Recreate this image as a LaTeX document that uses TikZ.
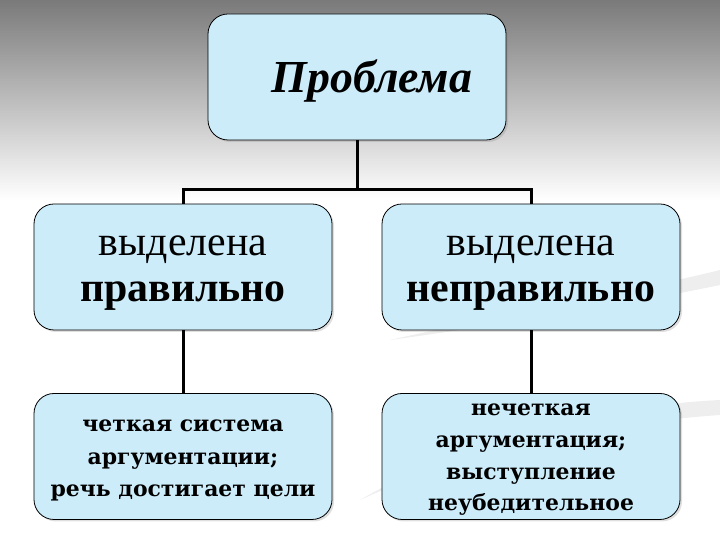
\documentclass[tikz,border=0pt]{standalone}
\usepackage{fontspec}
\setmainfont{Liberation Serif}
\newfontfamily\widefont{DejaVu Serif}
\usetikzlibrary{shadows}
\definecolor{boxblue}{RGB}{204,236,250}
\definecolor{topgray}{RGB}{122,122,122}
\definecolor{swoosh}{RGB}{238,238,238}
\newcommand{\lowerby}[1]{\rule{0pt}{#1}}

\begin{document}
\begin{tikzpicture}[x=1bp,y=1bp,
  box/.style={draw, rounded corners=20bp, fill=boxblue, line width=0.8bp,
    minimum width=298bp, minimum height=126bp, align=center, inner sep=2bp,
    drop shadow={shadow xshift=2bp, shadow yshift=-2bp, opacity=0.25}},
  link/.style={line width=3bp}]
\useasboundingbox (0,0) rectangle (720,540);
\shade[top color=topgray, bottom color=white] (0,340) rectangle (720,540);
% faint swooshes behind the boxes
\fill[swoosh] (360,40) .. controls (480,110) and (620,135) .. (720,140)
  -- (720,125) .. controls (620,118) and (480,95) .. (360,40) -- cycle;
\fill[swoosh] (390,200) .. controls (500,225) and (640,250) .. (720,270)
  -- (720,255) .. controls (640,238) and (500,215) .. (390,200) -- cycle;

\node[box, font=\fontsize{46}{50}\selectfont\bfseries\itshape] (prob) at (357,463) {\lowerby{40bp}\hspace*{30bp}Проблема};
\node[box, font=\fontsize{42}{47}\selectfont] (right) at (183,273) {\lowerby{32bp}выделена\\\textbf{правильно}};
\node[box, font=\fontsize{42}{47}\selectfont] (wrong) at (531,273) {\lowerby{32bp}выделена\\\textbf{неправильно}};
\node[box, font=\widefont\fontsize{22}{32.5}\selectfont\bfseries] (clear) at (183,83.5) {\lowerby{20bp}четкая система\\аргументации;\\речь достигает цели};
\node[box, font=\widefont\fontsize{22}{32}\selectfont\bfseries] (vague) at (531,83.5) {\lowerby{18bp}нечеткая\\аргументация;\\выступление\\неубедительное};

\coordinate (fork) at (357,350);
\draw[link] (prob) -- (fork);
\draw[link] (fork) -| (right);
\draw[link] (fork) -| (wrong);
\draw[link] (right) -- (clear);
\draw[link] (wrong) -- (vague);
\end{tikzpicture}
\end{document}
